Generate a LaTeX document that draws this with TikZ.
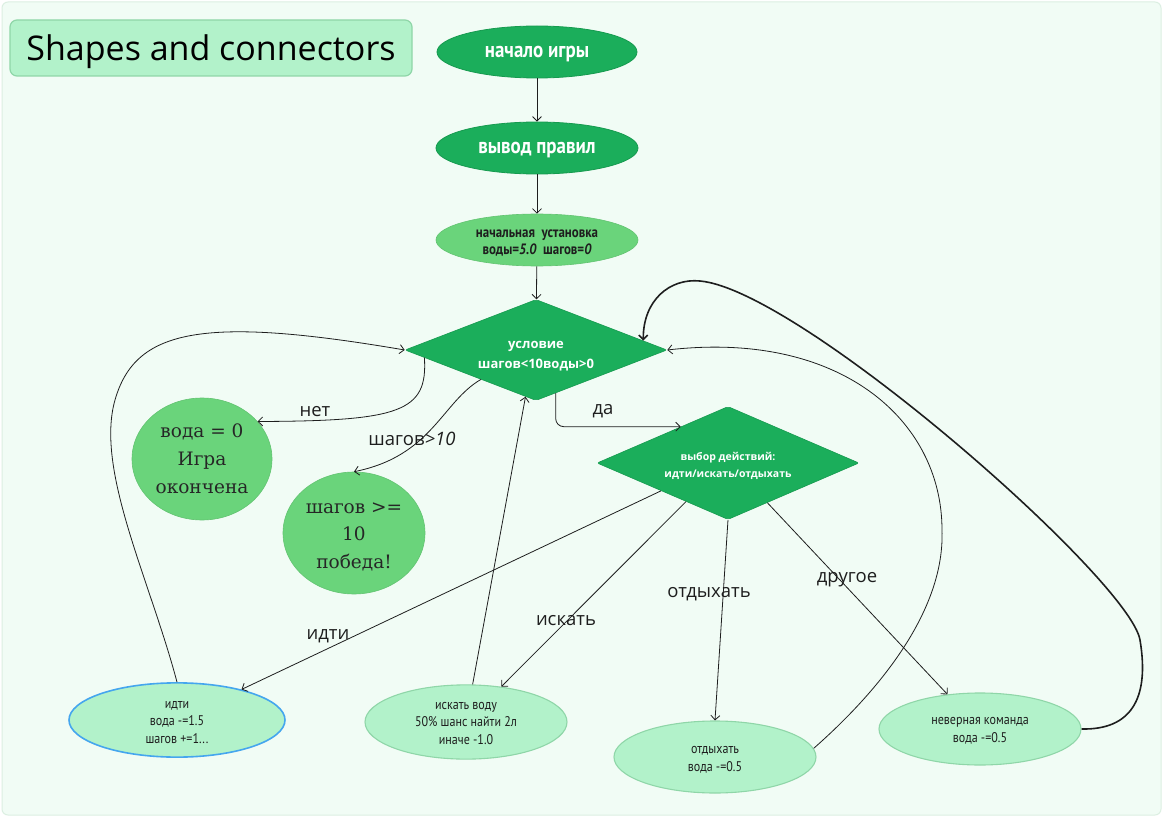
\documentclass[tikz,border=0pt]{standalone}
\usepackage{fontspec}
\setmainfont{Open Sans}
\newfontfamily\condfont[FakeStretch=0.86]{PT Sans}
\newfontfamily\seriff{DejaVu Serif}
\usetikzlibrary{shapes.geometric,arrows.meta,calc}
\definecolor{panelfill}{HTML}{F1FCF5}
\definecolor{panelline}{HTML}{DCEFE2}
\definecolor{dkgreen}{HTML}{1BAE5B}
\definecolor{dkline}{HTML}{169A4F}
\definecolor{mdgreen}{HTML}{6AD47B}
\definecolor{ltgreen}{HTML}{B2F2CA}
\definecolor{ltline}{HTML}{8FD6A8}
\definecolor{selblue}{HTML}{45A6EE}
\definecolor{inkc}{HTML}{1E1E1E}
\newcommand\lowertext[2]{\raisebox{-#1}[\height][\depth]{\begin{tabular}{@{}c@{}}#2\end{tabular}}}
\begin{document}
\begin{tikzpicture}[x=1pt,y=-1pt,
  darkell/.style={ellipse,fill=dkgreen,draw=dkline,line width=0.8pt,inner sep=0pt,
    text=white,font=\condfont\bfseries\fontsize{22}{24}\selectfont},
  midell/.style={ellipse,fill=mdgreen,draw=mdgreen!92!black,line width=0.6pt,inner sep=0pt,align=center},
  lightell/.style={ellipse,fill=ltgreen,draw=ltline,line width=1.1pt,inner sep=0pt,align=center,
    text=inkc,font=\condfont\fontsize{14}{17.5}\selectfont,minimum width=202pt,minimum height=72pt},
  decision/.style={diamond,fill=dkgreen,draw=dkline,line width=0.6pt,inner sep=0pt,rounded corners=2pt,
    text=white,align=center},
  conn/.style={draw=inkc,line width=0.8pt,-{Straight Barb[length=4.5pt,width=9pt]}},
  lbl/.style={text=inkc,font=\fontsize{18.5}{21}\selectfont,inner sep=0pt}
]
\useasboundingbox (0,0) rectangle (1168,824);
\fill[white] (0,0) rectangle (1168,824);
\draw[fill=panelfill,draw=panelline,line width=1pt,rounded corners=6pt] (2,2) rectangle (1161,815);

% title
\node[rectangle,rounded corners=7pt,fill=ltgreen,draw=ltline,line width=1.2pt,
  minimum width=402pt,minimum height=56pt,inner sep=0pt,
  font=\fontsize{34}{38}\selectfont,text=black] (title) at (211,48)
  {\raisebox{-4pt}[\height][\depth]{Shapes and connectors}};

% top column
\node[darkell,minimum width=200pt,minimum height=52pt] (n1) at (537,52)
  {\raisebox{-2pt}[\height][\depth]{начало игры}};
\node[darkell,minimum width=202pt,minimum height=52pt] (n2) at (537,148)
  {\raisebox{-2pt}[\height][\depth]{вывод правил}};
\node[midell,minimum width=202pt,minimum height=52pt,text=inkc,
  font=\condfont\bfseries\fontsize{15}{17}\selectfont] (n3) at (537,240)
  {\lowertext{3pt}{начальная\ \ установка\\воды=\textit{5.0}\ \ шагов=\textit{0}}};

\node[decision,aspect=2.6,minimum width=262pt,minimum height=101pt,
  font=\bfseries\fontsize{13}{20}\selectfont] (d1) at (536,350)
  {\lowertext{4pt}{условие\\шагов<10воды>0}};
\node[decision,aspect=2.4,minimum width=262pt,minimum height=113pt,
  font=\bfseries\fontsize{10.5}{17}\selectfont] (d2) at (728,463)
  {\lowertext{3pt}{выбор действий:\\идти/искать/отдыхать}};

% result circles
\node[midell,minimum width=140pt,minimum height=122pt,text=black!85,
  font=\seriff\fontsize{18.5}{28}\selectfont] (c1) at (202,459)
  {вода = 0\\Игра\\окончена};
\node[midell,minimum width=142pt,minimum height=122pt,text=black!85,
  font=\seriff\fontsize{18.5}{27.5}\selectfont] (c2) at (354,533)
  {\lowertext{2pt}{шагов >=\\10\\победа!}};

% action ellipses
\node[lightell,draw=selblue,line width=1.6pt,minimum width=216pt,minimum height=74pt] (w1) at (177,720)
  {\lowertext{2pt}{идти\\вода -=1.5\\шагов +=1...}};
\node[lightell] (s1) at (466,722) {\lowertext{1pt}{искать воду\\50\% шанс найти 2л\\иначе -1.0}};
\node[lightell] (r1) at (715,757) {\lowertext{2pt}{отдыхать\\вода -=0.5}};
\node[lightell] (e1) at (980,729) {\lowertext{1pt}{неверная команда\\вода -=0.5}};

% straight flow
\draw[conn] (n1) -- (n2);
\draw[conn] (n2) -- (n3);
\draw[conn] (n3) -- (d1);

% нет
\draw[conn] ($(d1.west)!0.15!(d1.south)$) .. controls (428,412) and (400,421) .. (c1.34);
\node[lbl] (lnet) at (315,412) {нет};
% шагов>10
\draw[conn] ($(d1.west)!0.58!(d1.south)$) .. controls (442,402) and (432,456) .. (c2.north);
\node[lbl] (lwin) at (412,439) {шагов\textit{>10}};
% да
\coordinate (daend) at ($(d2.west)!0.64!(d2.north)$);
\draw[conn,rounded corners=8pt] ($(d1.south)!0.15!(d1.east)$) |- (daend);
\node[lbl] (lda) at (603,411) {да};

% actions
\draw[conn] ($(d2.west)!0.49!(d2.south)$) -- (w1);
\node[lbl] (lgo) at (328,636) {идти};
\draw[conn] ($(d2.west)!0.68!(d2.south)$) -- (s1);
\node[lbl] (lsearch) at (566,621) {искать};
\draw[conn] (d2.south) -- (r1.north);
\node[lbl] (lrest) at (709,594) {отдыхать};
\draw[conn] ($(d2.south)!0.3!(d2.east)$) -- (e1);
\node[lbl] (lother) at (847,580) {другое};

% loops back
\draw[conn] (w1.north) .. controls (150,580) and (95,470) .. (115,400)
   .. controls (135,330) and (200,315) .. (d1.west);
\draw[conn] (s1.80) -- ($(d1.west)!0.92!(d1.south)$);
\draw[conn] (r1.5) .. controls (880,690) and (945,610) .. (942,530)
   .. controls (942,420) and (840,330) .. (d1.east);
\draw[conn,line width=1.6pt] (e1.east) .. controls (1130,730) and (1150,700) .. (1140,640)
   .. controls (1130,580) and (800,290) .. (700,281)
   .. controls (670,278) and (643,300) .. ($(d1.north)!0.817!(d1.east)$);
\end{tikzpicture}
\end{document}
